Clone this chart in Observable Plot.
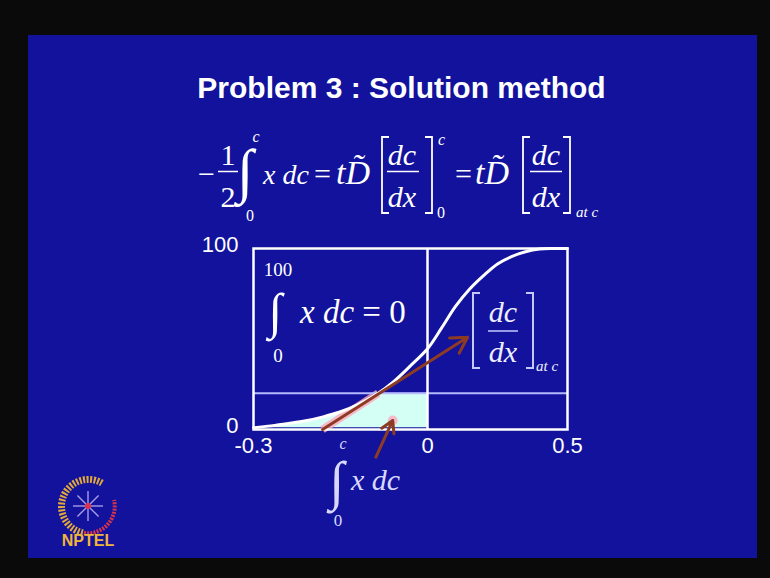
<!DOCTYPE html>
<html>
<head>
<meta charset="utf-8">
<script src="https://cdn.jsdelivr.net/npm/d3@7"></script>
<script src="https://cdn.jsdelivr.net/npm/@observablehq/plot@0.6"></script>
<style>
  html, body { margin: 0; padding: 0; background: #0a0a0a; }
  #stage { position: relative; width: 770px; height: 578px; overflow: hidden; background: #0a0a0a; }
  #slide { position: absolute; left: 28px; top: 35px; width: 729px; height: 523px; background: #12129c; }
  #chart, #math, #logo { position: absolute; left: 0; top: 0; }
  #math, #logo { pointer-events: none; }
  .serif { font-family: "Liberation Serif", "Times New Roman", serif; }
  .it { font-style: italic; }
</style>
</head>
<body>
<div id="stage">
  <div id="slide"></div>
  <div id="chart"></div>

  <svg id="math" width="770" height="578" viewBox="0 0 770 578">
    <!-- slide title -->
    <text x="401.5" y="98" text-anchor="middle" fill="#fff"
          style="font: bold 30px 'Liberation Sans', Arial, sans-serif;">Problem 3 : Solution method</text>

    <!-- governing relation -->
    <g class="serif" fill="#fff" stroke="none">
      <text x="198" y="184" font-size="30">−</text>
      <text x="228" y="165" font-size="30" text-anchor="middle">1</text>
      <line x1="218" x2="238" y1="171.5" y2="171.5" stroke="#fff" stroke-width="1.5"/>
      <text x="228" y="207" font-size="30" text-anchor="middle">2</text>
      <text x="245" y="191" font-size="60" text-anchor="middle">∫</text>
      <text x="256" y="142" font-size="16" class="it" text-anchor="middle">c</text>
      <text x="250" y="221" font-size="16" text-anchor="middle">0</text>
      <text x="263" y="184" font-size="28" class="it">x dc</text>
      <text x="314" y="184" font-size="30">=</text>
      <text x="336" y="184" font-size="34" class="it">tD̃</text>
      <path d="M389 137 H382 V213 H389" fill="none" stroke="#fff" stroke-width="1.8"/>
      <text x="402" y="165" font-size="30" class="it" text-anchor="middle">dc</text>
      <line x1="387" x2="419" y1="171.5" y2="171.5" stroke="#fff" stroke-width="1.5"/>
      <text x="402" y="207" font-size="30" class="it" text-anchor="middle">dx</text>
      <path d="M425 137 H432 V213 H425" fill="none" stroke="#fff" stroke-width="1.8"/>
      <text x="438" y="145" font-size="16" class="it">c</text>
      <text x="437" y="218" font-size="16">0</text>
      <text x="455" y="184" font-size="30">=</text>
      <text x="475" y="184" font-size="34" class="it">tD̃</text>
      <path d="M530 137 H523 V213 H530" fill="none" stroke="#fff" stroke-width="1.8"/>
      <text x="546" y="165" font-size="30" class="it" text-anchor="middle">dc</text>
      <line x1="530" x2="562" y1="171.5" y2="171.5" stroke="#fff" stroke-width="1.5"/>
      <text x="546" y="207" font-size="30" class="it" text-anchor="middle">dx</text>
      <path d="M563 137 H570 V213 H563" fill="none" stroke="#fff" stroke-width="1.8"/>
      <text x="576" y="217" font-size="15" class="it">at c</text>
    </g>

    <!-- mass balance over the whole profile -->
    <g class="serif" fill="#fff">
      <text x="278" y="276" font-size="19" text-anchor="middle">100</text>
      <text x="275" y="328" font-size="50" text-anchor="middle">∫</text>
      <text x="278" y="362" font-size="19" text-anchor="middle">0</text>
      <text x="300" y="323" font-size="33"><tspan class="it">x dc</tspan> = 0</text>
    </g>

    <!-- slope label -->
    <g class="serif" fill="#eef">
      <path d="M480 293 H473 V368 H480" fill="none" stroke="#c4c8ff" stroke-width="2"/>
      <text x="503" y="322" font-size="30" class="it" text-anchor="middle">dc</text>
      <line x1="488" x2="518" y1="331" y2="331" stroke="#c4c8ff" stroke-width="1.5"/>
      <text x="503" y="362" font-size="30" class="it" text-anchor="middle">dx</text>
      <path d="M526 293 H533 V368 H526" fill="none" stroke="#c4c8ff" stroke-width="2"/>
      <text x="536" y="371" font-size="15" class="it">at c</text>
    </g>

    <!-- partial integral label -->
    <g class="serif" fill="#d8d8ff">
      <text x="343" y="449" font-size="16" class="it" text-anchor="middle">c</text>
      <text x="337" y="499" font-size="54" text-anchor="middle">∫</text>
      <text x="351" y="490" font-size="30" class="it">x dc</text>
      <text x="338" y="526" font-size="17" text-anchor="middle">0</text>
    </g>
  </svg>

  <svg id="logo" width="770" height="578" viewBox="0 0 770 578">
    <g transform="translate(88,506)">
      <path d="M14 -23 A27 27 0 1 0 -4 27" fill="none" stroke="#e3a83a" stroke-width="7" stroke-dasharray="2 1.5"/>
      <path d="M-4 27 A27 27 0 0 0 26 -6" fill="none" stroke="#d8344c" stroke-width="4" stroke-dasharray="2 1.2"/>
      <g stroke="#a99ce6" stroke-width="1.4" fill="none">
        <line x1="0" y1="-15" x2="0" y2="15"/>
        <line x1="-15" y1="0" x2="15" y2="0"/>
        <line x1="-10.6" y1="-10.6" x2="10.6" y2="10.6"/>
        <line x1="-10.6" y1="10.6" x2="10.6" y2="-10.6"/>
      </g>
      <circle r="3" fill="#e0304a"/>
    </g>
    <text x="88" y="546" text-anchor="middle" fill="#f0b53a"
          style="font: bold 16px 'Liberation Sans', Arial, sans-serif;">NPTEL</text>
  </svg>
</div>

<script>
// Concentration profile c(x) across the diffusion couple
const xPos = [-0.3, -0.27, -0.24, -0.21, -0.18, -0.15, -0.12, -0.085, -0.06, -0.03, 0, 0.05, 0.1, 0.15, 0.2, 0.25, 0.3, 0.35, 0.4, 0.45, 0.5];
const conc = [1.0, 2.0, 3.3, 4.8, 7.0, 9.8, 13.8, 20, 26, 35, 44.6, 56, 68, 77.5, 85, 91.5, 95.5, 98.2, 99.7, 100, 100];

// Axis ticks
const xTicks = [-0.3, 0, 0.5];
const yTicks = [0, 100];

// Chosen composition c and the Matano plane x = 0
const cLevel = [20];
const matano = [0];

// Tangent to the profile at c, and the pointer into the shaded integral
const tangentX = [-0.181, 0.143];
const tangentC = [0, 51];
const pointerX = [-0.089, -0.06];
const pointerC = [-15.3, 5];

const profile = xPos.map((x, i) => ({x, c: conc[i]}));
const shaded = profile.filter(d => d.c <= cLevel[0]);
const touch = shaded[shaded.length - 1];
const tangent = [{x1: tangentX[0], c1: tangentC[0], x2: tangentX[1], c2: tangentC[1]}];
const pointer = [{x1: pointerX[0], c1: pointerC[0], x2: pointerX[1], c2: pointerC[1]}];
const glowSeg = [{x1: tangentX[0], c1: tangentC[0], x2: touch.x, c2: touch.c}];

const arrowStroke = "#8e3b24";
const glow = "#ffa6bd";

// The x axis is stretched differently on each side of the Matano plane:
// the negative side (0.3 wide) gets more room than the positive side (0.5 wide).
const stretch = d => (d < 0 ? d * 580 : d * 280);

const chart = Plot.plot({
  width: 770,
  height: 578,
  marginLeft: 253,
  marginRight: 203,
  marginTop: 248,
  marginBottom: 149,
  style: {background: "transparent", color: "#fff", fontFamily: "'Liberation Sans', Arial, sans-serif", fontSize: "22px", overflow: "visible"},
  x: {transform: stretch, domain: [stretch(-0.3), stretch(0.5)], axis: null},
  y: {domain: [0, 100]},
  marks: [
    Plot.areaX(shaded, {y: "c", x1: "x", x2: 0, fill: "#d4fff4", curve: "catmull-rom"}),
    Plot.link(glowSeg, {x1: "x1", y1: "c1", x2: "x2", y2: "c2", stroke: glow, strokeWidth: 8, strokeOpacity: 0.8, ariaLabel: "glow"}),
    Plot.dot(pointer, {x: "x2", y: "c2", r: 5, fill: glow, fillOpacity: 0.75, stroke: null, ariaLabel: "glow"}),
    Plot.ruleY(cLevel, {stroke: "#b6baff", strokeWidth: 2}),
    Plot.ruleX(matano, {stroke: "#fff", strokeWidth: 2.5}),
    Plot.frame({stroke: "#fff", strokeWidth: 2.5}),
    Plot.line(profile, {x: "x", y: "c", stroke: "#fff", strokeWidth: 3, curve: "catmull-rom"}),
    Plot.arrow(tangent, {x1: "x1", y1: "c1", x2: "x2", y2: "c2", stroke: arrowStroke, strokeWidth: 3, headLength: 9}),
    Plot.arrow(pointer, {x1: "x1", y1: "c1", x2: "x2", y2: "c2", stroke: arrowStroke, strokeWidth: 3, headLength: 9}),
    // x tick labels go through the same stretched x scale as the data
    Plot.text(xTicks, {x: d => d, frameAnchor: "bottom", lineAnchor: "top", dy: 8, text: d => String(d), fill: "#fff"}),
    Plot.axisY({ticks: yTicks, tickSize: 0, tickPadding: 15, dy: -4, tickFormat: d => String(d), label: null})
  ]
});

// soft halo where the red marker bleeds into the light shading
const svg = d3.select(chart);
svg.insert("defs", ":first-child")
  .append("filter").attr("id", "halo").attr("x", "-50%").attr("y", "-50%").attr("width", "200%").attr("height", "200%")
  .append("feGaussianBlur").attr("stdDeviation", 2.5);
svg.selectAll("g[aria-label='glow']").attr("filter", "url(#halo)");

document.getElementById("chart").appendChild(chart);
</script>
</body>
</html>
